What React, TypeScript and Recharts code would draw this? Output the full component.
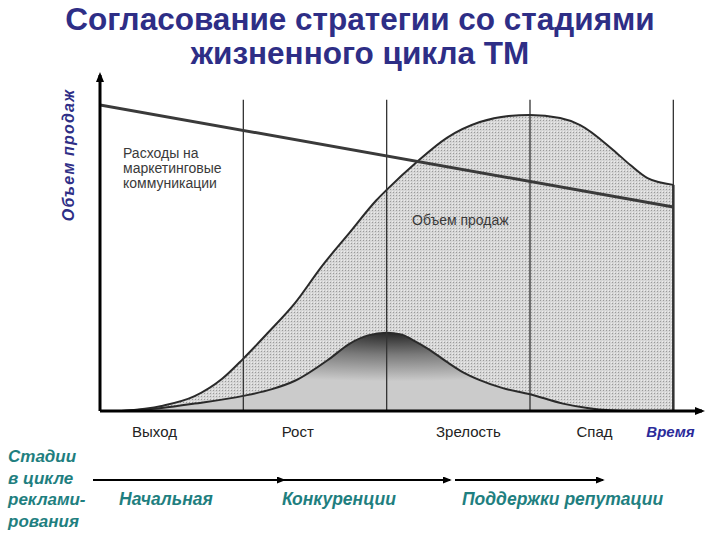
import React from 'react';
import { ComposedChart, Area, Line, XAxis, YAxis, ReferenceLine } from 'recharts';

// Sales volume (S-curve) — time in lifecycle-stage units, volume in % of axis height
const salesTime = [0.15, 0.43, 0.66, 0.85, 1.0, 1.17, 1.36, 1.55, 1.74, 1.93, 2.0, 2.21, 2.42, 2.65, 2.85, 3.0, 3.21, 3.35, 3.58, 3.7, 3.82, 4.0];
const salesVolume = [0, 1.5, 4.4, 9.5, 15.6, 23.2, 32.1, 43.2, 53, 62.8, 65.8, 74.1, 81.3, 86, 87.8, 88.1, 87.2, 85.1, 77.7, 73.2, 69.3, 67.3];

// Advertising wave (dark bell)
const waveTime = [0.15, 0.43, 0.66, 1.0, 1.2, 1.36, 1.6, 1.74, 1.87, 2.0, 2.1, 2.18, 2.3, 2.42, 2.53, 2.65, 2.81, 3.0, 3.23, 3.4, 3.56, 3.7];
const waveVolume = [0, 0.9, 2.2, 4.5, 6.5, 9.0, 15.5, 20, 22.5, 23.3, 22.8, 21.2, 18.2, 14.6, 11.6, 9.2, 6.8, 5.0, 2.2, 0.9, 0.2, 0];

// Marketing communications spend (straight decline)
const spendTime = [0, 4];
const spendLevel = [91.1, 60.7];

// Stage boundaries and labels
const stageBounds = [1, 2, 3, 4];
const stageTop = 92.6;
const rightEdgeVolume = 67.3;
const stageLabels = ['Выход', 'Рост', 'Зрелость', 'Спад', 'Время'];
const stageLabelPos = [0.38, 1.38, 2.57, 3.45, 3.98];

const adStages = ['Начальная', 'Конкуренции', 'Поддержки репутации'];

const salesData = salesTime.map((t, i) => ({ t, v: salesVolume[i] }));
const waveData = waveTime.map((t, i) => ({ t, w: waveVolume[i] }));
const spendData = spendTime.map((t, i) => ({ t, m: spendLevel[i] }));

const FONT = '"Liberation Sans", Arial, sans-serif';
const NAVY = '#2e2e86';
const TEAL = '#1f7f80';

const StageTick = (props: any) => {
  const { x, y, payload } = props;
  const idx = stageLabelPos.indexOf(payload.value);
  const label = stageLabels[idx] ?? '';
  const isTime = idx === stageLabels.length - 1;
  return (
    <text
      x={x}
      y={y}
      dy={18}
      textAnchor="middle"
      fontFamily={FONT}
      fontSize={15}
      fontWeight={isTime ? 'bold' : 'normal'}
      fontStyle={isTime ? 'italic' : 'normal'}
      fill={isTime ? '#2b2b9a' : '#222'}
    >
      {label}
    </text>
  );
};

export default function App() {
  return (
    <div style={{ position: 'absolute', left: 0, top: 0, width: 720, height: 540, background: '#fff' }}>
      <ComposedChart
        width={720}
        height={540}
        margin={{ top: 75, right: 18, bottom: 99, left: 70 }}
      >
        <defs>
          <marker id="axArrow" viewBox="0 0 10 8" refX={7} refY={4} markerWidth={10} markerHeight={8}
            markerUnits="userSpaceOnUse" orient="auto-start-reverse">
            <path d="M0,0 L10,4 L0,8 z" fill="#000" />
          </marker>
          <pattern id="dots" width={3} height={3} patternUnits="userSpaceOnUse">
            <rect width={3} height={3} fill="#d6d6d6" />
            <rect width={1} height={1} fill="#9a9a9a" />
            <rect x={2} y={2} width={1} height={1} fill="#ececec" />
          </pattern>
          <radialGradient id="waveGrad" cx="0.54" cy="0" r="0.62" fx="0.54" fy="0">
            <stop offset="0%" stopColor="#262626" />
            <stop offset="45%" stopColor="#7a7a7a" />
            <stop offset="100%" stopColor="#cbcbcb" />
          </radialGradient>
        </defs>
        <XAxis
          dataKey="t"
          type="number"
          domain={[0, 4.2]}
          allowDataOverflow
          ticks={stageLabelPos}
          tick={<StageTick />}
          tickLine={false}
          interval={0}
          height={30}
          axisLine={{ stroke: '#000', strokeWidth: 3, markerEnd: 'url(#axArrow)' }}
        />
        <YAxis
          type="number"
          domain={[0, 100]}
          allowDataOverflow
          tick={false}
          tickLine={false}
          width={30}
          axisLine={{ stroke: '#000', strokeWidth: 3, markerStart: 'url(#axArrow)' }}
        />
        <Area
          data={salesData}
          dataKey="v"
          type="monotone"
          stroke="#2a2a2a"
          strokeWidth={2}
          fill="url(#dots)"
          fillOpacity={1}
          isAnimationActive={false}
          dot={false}
          activeDot={false}
        />
        <Area
          data={waveData}
          dataKey="w"
          type="monotone"
          stroke="#2a2a2a"
          strokeWidth={2}
          fill="url(#waveGrad)"
          fillOpacity={1}
          isAnimationActive={false}
          dot={false}
          activeDot={false}
        />
        {stageBounds.map((b) => (
          <ReferenceLine
            key={b}
            segment={[{ x: b, y: 0 }, { x: b, y: stageTop }]}
            stroke="#333"
            strokeWidth={1.3}
            ifOverflow="visible"
          />
        ))}
        <ReferenceLine
          segment={[{ x: 4, y: 0 }, { x: 4, y: rightEdgeVolume }]}
          stroke="#333"
          strokeWidth={2.5}
          ifOverflow="visible"
        />
        <Line
          data={spendData}
          dataKey="m"
          type="linear"
          stroke="#3a3a3a"
          strokeWidth={3}
          dot={false}
          activeDot={false}
          isAnimationActive={false}
        />
      </ComposedChart>
      <svg
        width={720}
        height={540}
        style={{ position: 'absolute', left: 0, top: 0, pointerEvents: 'none' }}
      >
        <defs>
          <marker id="stArrow" viewBox="0 0 10 8" refX={8} refY={4} markerWidth={9} markerHeight={7}
            markerUnits="userSpaceOnUse" orient="auto">
            <path d="M0,0 L10,4 L0,8 z" fill="#000" />
          </marker>
        </defs>
        <text x={360} y={30} textAnchor="middle" fontFamily={FONT} fontSize={31.5} fontWeight="bold" fill={NAVY}>
          Согласование стратегии со стадиями
        </text>
        <text x={360} y={64} textAnchor="middle" fontFamily={FONT} fontSize={31.5} fontWeight="bold" fill={NAVY}>
          жизненного цикла ТМ
        </text>
        <text
          x={74}
          y={155}
          transform="rotate(-90 74 155)"
          textAnchor="middle"
          fontFamily={FONT}
          fontSize={16}
          fontWeight="bold"
          fontStyle="italic"
          letterSpacing={1.2}
          fill={NAVY}
        >
          Объем продаж
        </text>
        <g fontFamily={FONT} fontSize={14} fill="#3a3a3a">
          <text x={123} y={158}>Расходы на</text>
          <text x={123} y={173}>маркетинговые</text>
          <text x={123} y={188}>коммуникации</text>
          <text x={412} y={225}>Объем продаж</text>
        </g>
        <g fontFamily={FONT} fontSize={17} fontWeight="bold" fontStyle="italic" fill={TEAL}>
          <text x={8} y={462}>Стадии</text>
          <text x={8} y={484}>в цикле</text>
          <text x={8} y={505}>реклами-</text>
          <text x={8} y={527}>рования</text>
        </g>
        <g stroke="#000" strokeWidth={2}>
          <line x1={93} y1={480} x2={284} y2={480} markerEnd="url(#stArrow)" />
          <line x1={284} y1={480} x2={450} y2={480} markerEnd="url(#stArrow)" />
          <line x1={455} y1={480} x2={603} y2={480} markerEnd="url(#stArrow)" />
        </g>
        <g fontFamily={FONT} fontSize={17.5} fontWeight="bold" fontStyle="italic" fill={TEAL}>
          <text x={119} y={505}>{adStages[0]}</text>
          <text x={282} y={505}>{adStages[1]}</text>
          <text x={462} y={505}>{adStages[2]}</text>
        </g>
      </svg>
    </div>
  );
}
